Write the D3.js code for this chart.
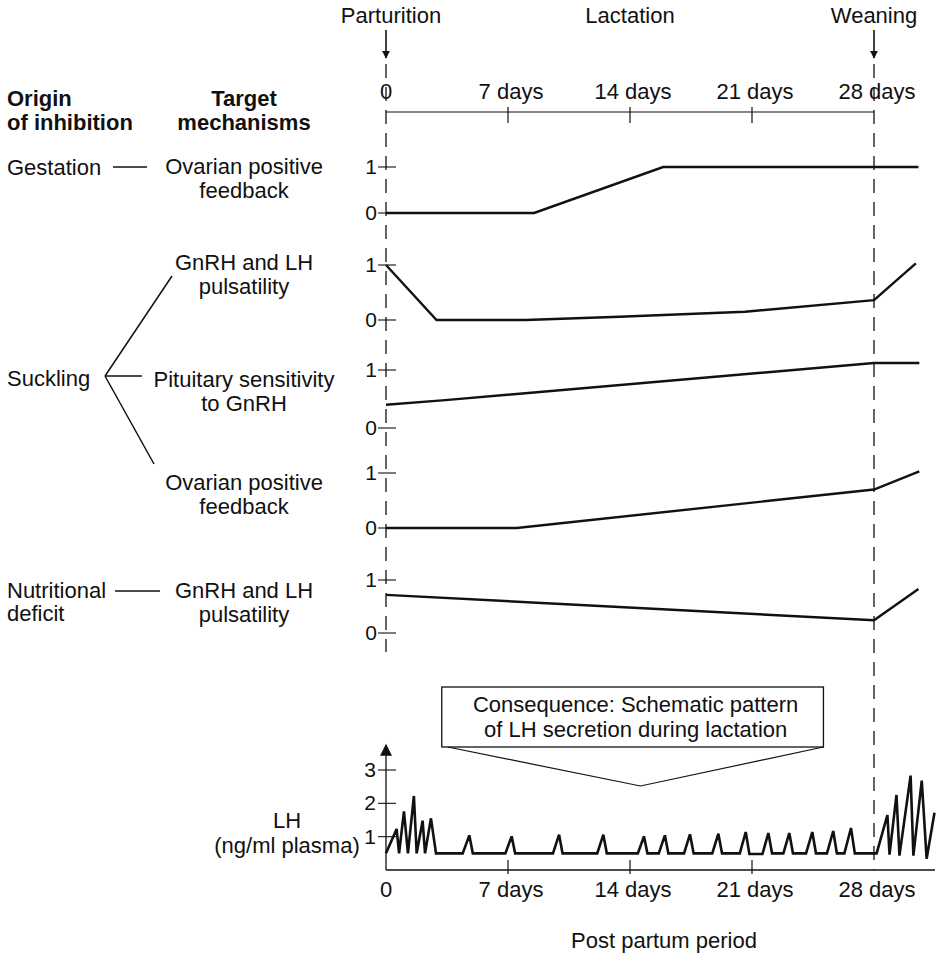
<!DOCTYPE html>
<html>
<head>
<meta charset="utf-8">
<script src="https://cdn.jsdelivr.net/npm/d3@7"></script>
<style>
  html, body { margin: 0; padding: 0; background: #fff; }
  svg { display: block; }
  text { font-family: "Liberation Sans", Arial, Helvetica, sans-serif; fill: #111; }
</style>
</head>
<body>
<div id="chart"></div>
<script>
// ---------------- DATA ----------------
const dayTicks = [0, 7, 14, 21, 28];
const dayLabels = ["0", "7 days", "14 days", "21 days", "28 days"];
const phaseDays = [0, 14, 28];
const phaseLabels = ["Parturition", "Lactation", "Weaning"];
const arrowDays = [0, 28];

const originHeader = ["Origin", "of inhibition"];
const targetHeader = ["Target", "mechanisms"];
const origins = ["Gestation", "Suckling", ["Nutritional", "deficit"]];
const targets = [
  ["Ovarian positive", "feedback"],
  ["GnRH and LH", "pulsatility"],
  ["Pituitary sensitivity", "to GnRH"],
  ["Ovarian positive", "feedback"],
  ["GnRH and LH", "pulsatility"]
];
const panelTicks = [0, 1];

// inhibition curves: [day, relative level]
const gestationOvarian   = [[0, 0], [8.5, 0], [15.9, 1], [30.55, 1]];
const sucklingGnRH       = [[0, 1], [2.9, 0], [8, 0], [13.4, 0.06], [20.6, 0.15], [28, 0.36], [30.4, 1.03]];
const sucklingPituitary  = [[0, 0.4], [3.4, 0.48], [28, 1.12], [30.6, 1.12]];
const sucklingOvarian    = [[0, 0], [7.5, 0], [28, 0.7], [30.6, 1.03]];
const nutritionGnRH      = [[0, 0.72], [28, 0.24], [30.55, 0.83]];
const panelSeries = [gestationOvarian, sucklingGnRH, sucklingPituitary, sucklingOvarian, nutritionGnRH];

// LH secretion pattern: [day, ng/ml]
const lhSeries = [
  [0, 0.5], [0.61, 1.23], [0.75, 0.5], [1.03, 1.76], [1.26, 0.5], [1.6, 2.22], [1.76, 0.5],
  [2.1, 1.48], [2.24, 0.5], [2.58, 1.55], [2.87, 0.5],
  [4.4, 0.5], [4.78, 1.04], [4.98, 0.5],
  [6.85, 0.5], [7.21, 1.01], [7.41, 0.5],
  [9.58, 0.5], [9.93, 1.06], [10.13, 0.5],
  [12.12, 0.5], [12.47, 1.06], [12.67, 0.5],
  [14.45, 0.5], [14.8, 1.01], [15.0, 0.5],
  [15.65, 0.5], [16.0, 1.04], [16.2, 0.5],
  [17.1, 0.5], [17.44, 1.07], [17.65, 0.5],
  [18.72, 0.5], [19.07, 1.09], [19.28, 0.5],
  [20.3, 0.5], [20.64, 1.14], [20.85, 0.48],
  [21.6, 0.48], [21.94, 1.11], [22.15, 0.5],
  [22.8, 0.5], [23.14, 1.11], [23.35, 0.5],
  [24.1, 0.5], [24.46, 1.14], [24.67, 0.5],
  [25.3, 0.5], [25.66, 1.17], [25.87, 0.5],
  [26.3, 0.5], [26.68, 1.26], [26.9, 0.5],
  [28.15, 0.5],
  [28.77, 1.65], [28.89, 0.46], [29.29, 2.25], [29.46, 0.43], [30.1, 2.83], [30.26, 0.43],
  [30.74, 2.68], [31.02, 0.34], [31.47, 1.72]
];
const lhTicks = [1, 2, 3];
const lhLabel = ["LH", "(ng/ml plasma)"];
const calloutText = ["Consequence: Schematic pattern", "of LH secretion during lactation"];
const xTitle = "Post partum period";

// ---------------- LAYOUT ----------------
const W = 942, H = 967;
const FS = 22;
const panelY = [[213, 167], [320, 265], [428, 370], [528, 473], [633, 580]]; // [y of 0, y of 1]
const topAxisY = 112;
const lhY0 = 870, lhY3 = 770;

const svg = d3.select("#chart").append("svg")
  .attr("width", W).attr("height", H).attr("viewBox", `0 0 ${W} ${H}`);

const x = d3.scaleLinear().domain([0, 28]).range([386, 874]);
const lhY = d3.scaleLinear().domain([0, 3]).range([lhY0, lhY3]);
const panelScales = panelY.map(p => d3.scaleLinear().domain([0, 1]).range(p));

const ink = "#111";

// arrowhead markers
const defs = svg.append("defs");
defs.append("marker").attr("id", "ah").attr("viewBox", "0 0 10 10")
  .attr("refX", 9).attr("refY", 5).attr("markerWidth", 8).attr("markerHeight", 10)
  .attr("markerUnits", "userSpaceOnUse").attr("orient", "auto")
  .append("path").attr("d", "M0,0 L10,5 L0,10 Z").attr("fill", ink);
defs.append("marker").attr("id", "ah2").attr("viewBox", "0 0 10 10")
  .attr("refX", 9).attr("refY", 5).attr("markerWidth", 13).attr("markerHeight", 12)
  .attr("markerUnits", "userSpaceOnUse").attr("orient", "auto")
  .append("path").attr("d", "M0,0 L10,5 L0,10 Z").attr("fill", ink);

// ---- header phase labels + arrows
svg.selectAll(".phase").data(phaseLabels).join("text")
  .attr("x", (d, i) => x(phaseDays[i]) + (i === 0 ? 5 : 0)).attr("y", 23)
  .attr("text-anchor", "middle").attr("font-size", FS).text(d => d);

svg.selectAll(".arrow").data(arrowDays).join("line")
  .attr("x1", d => x(d)).attr("x2", d => x(d)).attr("y1", 30).attr("y2", 58)
  .attr("stroke", ink).attr("stroke-width", 1.6).attr("marker-end", "url(#ah)");

// ---- dashed reference lines
svg.append("line").attr("x1", x(0)).attr("x2", x(0)).attr("y1", 64).attr("y2", 652)
  .attr("stroke", ink).attr("stroke-width", 1.3).attr("stroke-dasharray", "14,9");
svg.append("line").attr("x1", x(28)).attr("x2", x(28)).attr("y1", 64).attr("y2", lhY0)
  .attr("stroke", ink).attr("stroke-width", 1.3).attr("stroke-dasharray", "14,9");

// ---- top time axis
svg.append("line").attr("x1", x(0)).attr("x2", x(28)).attr("y1", topAxisY).attr("y2", topAxisY)
  .attr("stroke", ink).attr("stroke-width", 1.2);
svg.selectAll(".ttick").data(dayTicks.slice(1, 4)).join("line")
  .attr("x1", d => x(d)).attr("x2", d => x(d)).attr("y1", topAxisY - 5).attr("y2", topAxisY + 11)
  .attr("stroke", ink).attr("stroke-width", 1.2);
svg.selectAll(".tlab").data(dayLabels).join("text")
  .attr("x", (d, i) => x(dayTicks[i]) + (i ? 3 : 0)).attr("y", 99)
  .attr("text-anchor", "middle").attr("font-size", FS).text(d => d);

// ---- left column headers
[originHeader, targetHeader].forEach((h, k) => {
  h.forEach((t, j) => {
    svg.append("text").attr("x", k ? 244 : 7).attr("y", 106 + j * 24)
      .attr("text-anchor", k ? "middle" : "start")
      .attr("font-size", FS).attr("font-weight", "bold").text(t);
  });
});

// ---- target labels (centered column)
const targetCenters = [178, 274, 391, 494, 602];
targets.forEach((t, i) => {
  t.forEach((s, j) => {
    svg.append("text").attr("x", 244).attr("y", targetCenters[i] - 12 + j * 24 + 8)
      .attr("text-anchor", "middle").attr("font-size", FS).text(s);
  });
});

// ---- origin labels
svg.append("text").attr("x", 7).attr("y", 175).attr("font-size", FS).text(origins[0]);
svg.append("text").attr("x", 7).attr("y", 386).attr("font-size", FS).text(origins[1]);
origins[2].forEach((s, j) => svg.append("text").attr("x", 7).attr("y", 598 + j * 23).attr("font-size", FS).text(s));

// connectors
const conn = [
  [[113, 167], [147, 167]],
  [[105, 376], [172, 276]],
  [[105, 376], [142, 376]],
  [[105, 376], [154, 464]],
  [[115, 591], [160, 591]]
];
conn.forEach(c => svg.append("line")
  .attr("x1", c[0][0]).attr("y1", c[0][1]).attr("x2", c[1][0]).attr("y2", c[1][1])
  .attr("stroke", ink).attr("stroke-width", 1.5));

// ---- panels
const line = d3.line();
panelScales.forEach((ys, i) => {
  const g = svg.append("g");
  g.selectAll("line").data(panelTicks).join("line")
    .attr("x1", x(0) - 8).attr("x2", x(0) + 10)
    .attr("y1", d => ys(d)).attr("y2", d => ys(d))
    .attr("stroke", ink).attr("stroke-width", 1.1);
  g.selectAll("text").data(panelTicks).join("text")
    .attr("x", x(0) - 9).attr("y", d => ys(d) + 7)
    .attr("text-anchor", "end").attr("font-size", 21).text(d => d);
  g.append("path").datum(panelSeries[i])
    .attr("d", line.x(d => x(d[0])).y(d => ys(d[1])))
    .attr("fill", "none").attr("stroke", ink).attr("stroke-width", 2.4)
    .attr("stroke-linejoin", "miter");
});

// ---- callout box
const bx0 = x(3.2), bx1 = x(25.1), by0 = 687, by1 = 747;
svg.append("rect").attr("x", bx0).attr("y", by0).attr("width", bx1 - bx0).attr("height", by1 - by0)
  .attr("fill", "none").attr("stroke", ink).attr("stroke-width", 1.3);
svg.append("path")
  .attr("d", `M${bx0 + 6},${by1} L${x(14.6)},786 L${bx1},${by1}`)
  .attr("fill", "none").attr("stroke", ink).attr("stroke-width", 1.2);
calloutText.forEach((t, j) => svg.append("text")
  .attr("x", (bx0 + bx1) / 2 + 3).attr("y", 712 + j * 25)
  .attr("text-anchor", "middle").attr("font-size", FS).text(t));

// ---- LH panel
svg.append("line").attr("x1", x(0)).attr("x2", x(0)).attr("y1", lhY0).attr("y2", 745)
  .attr("stroke", ink).attr("stroke-width", 1.3).attr("marker-end", "url(#ah2)");
svg.append("line").attr("x1", x(0)).attr("x2", x(31.5)).attr("y1", lhY0).attr("y2", lhY0)
  .attr("stroke", ink).attr("stroke-width", 1.3);
svg.selectAll(".lht").data(lhTicks).join("line")
  .attr("x1", x(0) - 8).attr("x2", x(0) + 10)
  .attr("y1", d => lhY(d)).attr("y2", d => lhY(d))
  .attr("stroke", ink).attr("stroke-width", 1.1);
svg.selectAll(".lhl").data(lhTicks).join("text")
  .attr("x", x(0) - 10).attr("y", d => lhY(d) + 7)
  .attr("text-anchor", "end").attr("font-size", 21).text(d => d);
svg.selectAll(".btick").data(dayTicks.slice(1, 4)).join("line")
  .attr("x1", d => x(d)).attr("x2", d => x(d)).attr("y1", lhY0 - 10).attr("y2", lhY0 + 4)
  .attr("stroke", ink).attr("stroke-width", 1.2);
svg.selectAll(".blab").data(dayLabels).join("text")
  .attr("x", (d, i) => x(dayTicks[i]) + (i ? 3 : 0)).attr("y", 897)
  .attr("text-anchor", "middle").attr("font-size", FS).text(d => d);

svg.append("path").datum(lhSeries)
  .attr("d", d3.line().x(d => x(d[0])).y(d => lhY(d[1])))
  .attr("fill", "none").attr("stroke", ink).attr("stroke-width", 2.6)
  .attr("stroke-linejoin", "miter").attr("stroke-miterlimit", 3);

lhLabel.forEach((t, j) => svg.append("text")
  .attr("x", 287).attr("y", 828 + j * 25)
  .attr("text-anchor", "middle").attr("font-size", FS).text(t));

svg.append("text").attr("x", 664).attr("y", 948)
  .attr("text-anchor", "middle").attr("font-size", FS).text(xTitle);
</script>
</body>
</html>
